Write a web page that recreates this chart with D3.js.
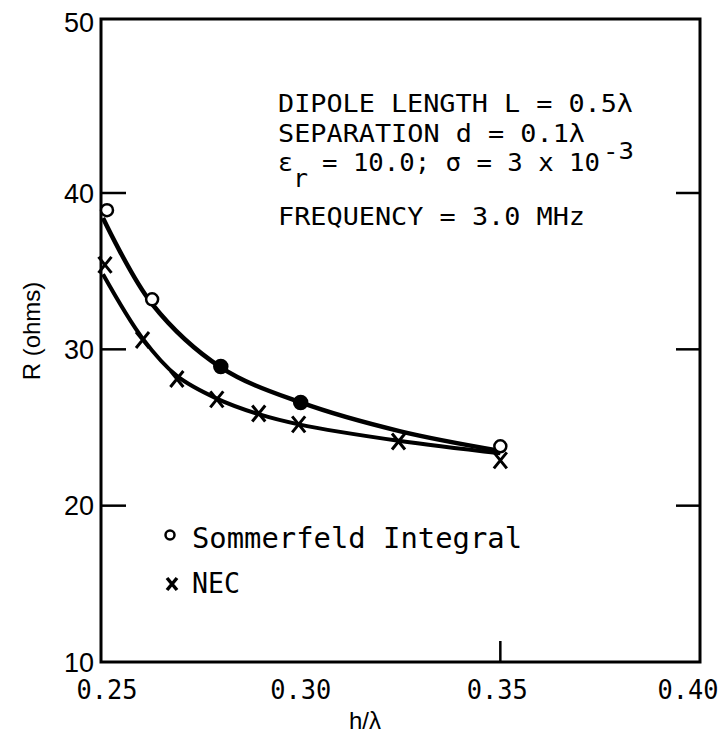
<!DOCTYPE html>
<html>
<head>
<meta charset="utf-8">
<script src="https://cdn.jsdelivr.net/npm/d3@7/dist/d3.min.js"></script>
<style>
  body { margin: 0; background: #fff; }
  svg { display: block; }
</style>
</head>
<body>
<svg id="chart" width="723" height="745"></svg>
<script>
// ---- data ----
const xTicks = [0.25, 0.30, 0.35, 0.40];
const xTickLabels = ["0.25", "0.30", "0.35", "0.40"];
const yTicks = [10, 20, 30, 40, 50];
const yTickLabels = ["10", "20", "30", "40", "50"];

// Sommerfeld Integral points
const sommX = [0.2515, 0.2628, 0.28, 0.30, 0.35];
const sommR = [38.9, 33.2, 28.9, 26.6, 23.8];
const sommOnCurve = [false, false, true, true, false];

// NEC points
const necX = [0.251, 0.2604, 0.269, 0.279, 0.2895, 0.2995, 0.3245, 0.35];
const necR = [35.4, 30.6, 28.1, 26.8, 25.9, 25.2, 24.1, 22.9];

// Fitted curves
const sommCurveX = [0.2505, 0.2628, 0.28, 0.30, 0.325, 0.35];
const sommCurveR = [38.4, 32.9, 28.85, 26.6, 24.75, 23.5];
const necCurveX = [0.2505, 0.2604, 0.269, 0.279, 0.2895, 0.2995, 0.3245, 0.35];
const necCurveR = [34.8, 30.7, 28.3, 26.85, 25.85, 25.2, 24.15, 23.35];

// ---- drawing ----
const svg = d3.select("#chart");
const x = d3.scaleLinear().domain([0.25, 0.40]).range([101, 700]);
const y = d3.scaleLinear().domain([10, 40, 50]).range([662, 193, 19]);

const mono = "'DejaVu Sans Mono', monospace";
const sans = "'Liberation Sans', Arial, sans-serif";

// frame
svg.append("rect")
  .attr("x", x(0.25)).attr("y", y(50))
  .attr("width", x(0.40) - x(0.25)).attr("height", y(10) - y(50))
  .attr("fill", "none").attr("stroke", "#000").attr("stroke-width", 3);

// inner ticks on left/right
[20, 30, 40].forEach(v => {
  svg.append("line").attr("x1", x(0.25)).attr("x2", x(0.25) + 25)
    .attr("y1", y(v)).attr("y2", y(v)).attr("stroke", "#000").attr("stroke-width", 2.5);
  svg.append("line").attr("x1", x(0.40)).attr("x2", x(0.40) - 24)
    .attr("y1", y(v)).attr("y2", y(v)).attr("stroke", "#000").attr("stroke-width", 2.5);
});
// bottom tick at 0.35
svg.append("line").attr("x1", x(0.35)).attr("x2", x(0.35))
  .attr("y1", y(10)).attr("y2", y(10) - 21).attr("stroke", "#000").attr("stroke-width", 2.5);

// y tick labels
yTicks.forEach((v, i) => {
  svg.append("text")
    .attr("x", 94).attr("y", v === 50 ? 22 : y(v))
    .attr("dy", "0.36em")
    .attr("text-anchor", "end")
    .attr("font-family", sans).attr("font-size", 27)
    .text(yTickLabels[i]);
});

// x tick labels
const xLabelOffsets = [6, 0, -3, -12];
xTicks.forEach((v, i) => {
  svg.append("text")
    .attr("x", x(v) + xLabelOffsets[i]).attr("y", 699)
    .attr("text-anchor", "middle")
    .attr("font-family", mono).attr("font-size", 27)
    .attr("textLength", 61).attr("lengthAdjust", "spacingAndGlyphs")
    .text(xTickLabels[i]);
});

// axis titles
svg.append("text")
  .attr("x", 365).attr("y", 729)
  .attr("text-anchor", "middle")
  .attr("font-family", sans).attr("font-size", 24)
  .text("h/λ");
svg.append("text")
  .attr("transform", "translate(40,331) rotate(-90)")
  .attr("text-anchor", "middle")
  .attr("font-family", sans).attr("font-size", 24)
  .text("R (ohms)");

// curves
const line = d3.line().x(d => x(d[0])).y(d => y(d[1])).curve(d3.curveCatmullRom.alpha(0.5));
svg.append("path")
  .datum(sommCurveX.map((v, i) => [v, sommCurveR[i]]))
  .attr("d", line).attr("fill", "none").attr("stroke", "#000").attr("stroke-width", 4.5);
svg.append("path")
  .datum(necCurveX.map((v, i) => [v, necCurveR[i]]))
  .attr("d", line).attr("fill", "none").attr("stroke", "#000").attr("stroke-width", 4);

// Sommerfeld markers
sommX.forEach((v, i) => {
  svg.append("circle")
    .attr("cx", x(v)).attr("cy", y(sommR[i])).attr("r", sommOnCurve[i] ? 6.5 : 6)
    .attr("fill", sommOnCurve[i] ? "#000" : "#fff")
    .attr("stroke", "#000").attr("stroke-width", 2.5);
});

// NEC markers
const xMark = (g, cx, cy, sx, sy, w) => {
  g.append("path")
    .attr("d", `M${cx - sx},${cy - sy}L${cx + sx},${cy + sy}M${cx - sx},${cy + sy}L${cx + sx},${cy - sy}`)
    .attr("stroke", "#000").attr("stroke-width", w).attr("fill", "none");
};
necX.forEach((v, i) => xMark(svg, x(v), y(necR[i]), 6.5, 8, 3));

// annotation text
const ann = svg.append("g").attr("font-family", mono).attr("font-size", 25).attr("fill", "#000");
const sg = "spacingAndGlyphs";
ann.append("text").attr("x", 278).attr("y", 112).attr("textLength", 355).attr("lengthAdjust", sg)
  .text("DIPOLE LENGTH L = 0.5λ");
ann.append("text").attr("x", 278).attr("y", 142).attr("textLength", 307).attr("lengthAdjust", sg)
  .text("SEPARATION d = 0.1λ");
ann.append("text").attr("x", 278).attr("y", 171).text("ε");
ann.append("text").attr("x", 293).attr("y", 187).text("r");
ann.append("text").attr("x", 322).attr("y", 171).attr("textLength", 278).attr("lengthAdjust", sg)
  .text("= 10.0; σ = 3 x 10");
ann.append("text").attr("x", 603).attr("y", 159).attr("font-size", 23)
  .attr("textLength", 31).attr("lengthAdjust", sg)
  .text("-3");
ann.append("text").attr("x", 278).attr("y", 225).attr("textLength", 307).attr("lengthAdjust", sg)
  .text("FREQUENCY = 3.0 MHz");

// legend
svg.append("circle").attr("cx", 170).attr("cy", 535).attr("r", 4.5)
  .attr("fill", "#fff").attr("stroke", "#000").attr("stroke-width", 2.5);
svg.append("text").attr("x", 192).attr("y", 548)
  .attr("font-family", mono).attr("font-size", 28)
  .attr("textLength", 330).attr("lengthAdjust", sg)
  .text("Sommerfeld Integral");
xMark(svg, 172, 584, 5, 6, 3.5);
svg.append("text").attr("x", 192).attr("y", 593)
  .attr("font-family", mono).attr("font-size", 28)
  .attr("textLength", 48).attr("lengthAdjust", sg)
  .text("NEC");
</script>
</body>
</html>
